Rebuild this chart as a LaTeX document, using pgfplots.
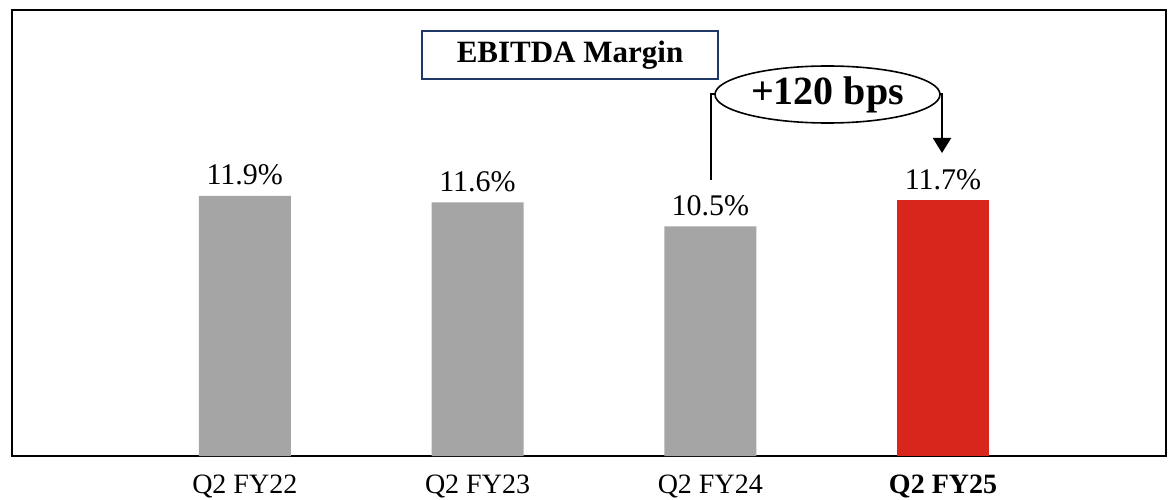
\documentclass[border=0pt]{standalone}
\usepackage{pgfplots}
\pgfplotsset{compat=1.18}
\usepackage{fontspec}
\setmainfont{Liberation Serif}
\usetikzlibrary{arrows.meta,shapes.geometric}
\definecolor{bargray}{HTML}{A5A5A5}
\definecolor{barred}{HTML}{D9261C}
\definecolor{navy}{HTML}{203864}
\begin{document}
\begin{tikzpicture}[x=1pt,y=1pt]
\useasboundingbox (0,0) rectangle (1168,499);
\begin{axis}[
  at={(12pt,43pt)}, anchor=south west,
  scale only axis, width=1154pt, height=446pt,
  xmin=-1.0, xmax=3.958, ymin=0, ymax=20.4,
  ybar, bar width=92pt,
  axis line style={line width=2.5pt, black},
  ytick=\empty,
  xtick={0,1,2,3},
  xticklabels={Q2 FY22, Q2 FY23, Q2 FY24, \textbf{Q2 FY25}},
  major tick length=0pt,
  xticklabel style={font=\fontsize{28}{30}\selectfont, inner sep=0pt, anchor=north, yshift=-19pt},
  nodes near coords={\pgfmathprintnumber[fixed,fixed zerofill,precision=1,assume math mode=true]{\pgfplotspointmeta}\%},
  every node near coord/.append style={font=\fontsize{30}{32}\selectfont, inner sep=0pt, text depth=0pt, anchor=south, yshift=11pt, black},
  clip=false,
]
\addplot[fill=bargray, draw=none, bar shift=0pt] coordinates {(0,11.9) (1,11.6) (2,10.5)};
\addplot[fill=barred, draw=none, bar shift=0pt] coordinates {(3,11.7)};
\end{axis}
% title box
\node[draw=navy, line width=2.5pt, fill=white, minimum width=296pt, minimum height=48pt, inner sep=0pt,
      font=\fontsize{31}{33}\selectfont\bfseries] at (570,444) {EBITDA Margin};
% ellipse annotation
\draw[line width=1.6pt] (827.5,404.5) ellipse [x radius=112.5pt, y radius=28.5pt];
\node[font=\fontsize{40}{42}\selectfont\bfseries] at (827.5,404.5) {+120 bps};
\draw[line width=2pt] (711,319) -- (711,404.5) -- (715,404.5);
\draw[line width=2pt, -{Triangle[length=15pt,width=18pt]}] (940,404.5) -- (942,404.5) -- (942,346);
\end{tikzpicture}
\end{document}
